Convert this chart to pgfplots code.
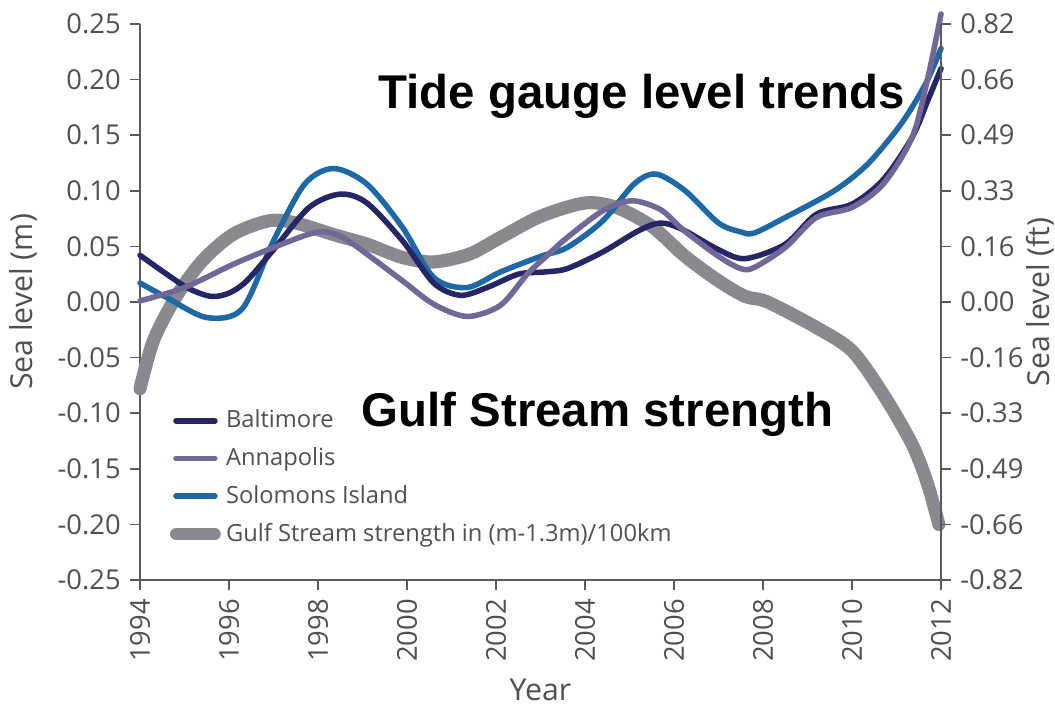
\documentclass[border=0pt]{standalone}
\usepackage{pgfplots}
\pgfplotsset{compat=1.18}
\usepackage{fontspec}
\setmainfont{Open Sans}
\newfontfamily\annfont{Liberation Sans}

\definecolor{balt}{RGB}{37,38,102}
\definecolor{anna}{RGB}{113,104,152}
\definecolor{solo}{RGB}{31,104,166}
\definecolor{gulf}{RGB}{138,137,144}
\definecolor{axgray}{RGB}{90,90,90}
\definecolor{txgray}{RGB}{80,80,80}

\pgfplotsset{
  srl/.style={scale only axis, width=304.4pt, height=211.3pt,
    xmin=1994, xmax=2012, ymin=-0.25, ymax=0.25,
    axis line style={axgray, line width=0.6pt},
    tick align=outside, major tick length=3.8pt,
    tick style={axgray, line width=0.6pt},
    ytick={-0.25,-0.20,-0.15,-0.10,-0.05,0,0.05,0.10,0.15,0.20,0.25},
    tick label style={font=\fontsize{10.4}{12}\selectfont, text=txgray},
    label style={font=\fontsize{11.5}{13}\selectfont, text=txgray},
    clip=false},
  tline/.style={line width=2.1pt, line cap=round, smooth},
}

\begin{document}
\begin{tikzpicture}
\begin{axis}[srl,
  axis x line*=bottom, axis y line*=left,
  xtick={1994,1996,...,2012},
  xticklabels={1994,1996,1998,2000,2002,2004,2006,2008,2010,2012},
  xticklabel style={rotate=90, anchor=east},
  yticklabels={-0.25,-0.20,-0.15,-0.10,-0.05,0.00,0.05,0.10,0.15,0.20,0.25},
  xlabel={Year}, xlabel style={at={(axis description cs:0.5,-0.198)}, anchor=center},
  ylabel={Sea level (m)}, ylabel style={at={(axis description cs:-0.145,0.5)}, anchor=center},
  legend style={draw=none, fill=none, at={(axis description cs:0.027,0.326)}, anchor=north west,
    font=\fontsize{9}{10.8}\selectfont, text=txgray, row sep=2pt},
  legend cell align=left,
  legend image code/.code={\draw[#1] (0pt,0pt) -- (14.8pt,0pt);},
]
% Gulf Stream strength (drawn underneath)
\addplot[gulf, line width=5pt, line cap=round, smooth, forget plot] table {
1994.0 -0.078
1994.3 -0.035
1994.8 0.004
1995.4 0.037
1996.1 0.061
1996.9 0.073
1997.5 0.071
1998.4 0.060
1999.1 0.052
1999.9 0.040
2000.6 0.036
2001.4 0.043
2002.1 0.058
2003.0 0.077
2004.0 0.089
2004.7 0.085
2005.5 0.068
2006.25 0.041
2007.0 0.019
2007.6 0.005
2008.1 0.000
2009.2 -0.023
2010.0 -0.044
2010.7 -0.083
2011.35 -0.128
2011.7 -0.164
2011.95 -0.200
};
% Solomons Island
\addplot[solo, tline, forget plot] table {
1994.0 0.017
1994.6 0.004
1995.5 -0.014
1996.3 -0.006
1997.0 0.055
1997.7 0.106
1998.35 0.120
1999.1 0.106
1999.9 0.067
2000.6 0.022
2001.35 0.013
2002.1 0.027
2003.0 0.041
2003.6 0.049
2004.4 0.073
2005.1 0.106
2005.6 0.115
2006.25 0.100
2007.0 0.071
2007.5 0.063
2007.8 0.062
2008.5 0.076
2009.6 0.100
2010.35 0.124
2011.1 0.160
2011.65 0.196
2012.0 0.228
};
% Baltimore
\addplot[balt, tline, forget plot] table {
1994.0 0.042
1994.6 0.025
1995.1 0.012
1995.6 0.005
1996.0 0.008
1996.4 0.019
1997.0 0.047
1997.8 0.085
1998.5 0.097
1999.1 0.089
1999.9 0.055
2000.6 0.017
2001.2 0.006
2001.8 0.013
2002.5 0.025
2003.1 0.027
2003.6 0.030
2004.4 0.045
2005.2 0.064
2005.7 0.071
2006.2 0.065
2007.0 0.047
2007.6 0.039
2008.5 0.052
2009.2 0.079
2010.0 0.088
2010.7 0.110
2011.35 0.148
2011.7 0.181
2012.0 0.210
};
% Annapolis
\addplot[anna, tline, forget plot] table {
1994.0 0.001
1995.0 0.013
1996.1 0.034
1997.0 0.049
1997.8 0.061
1998.2 0.063
1998.6 0.057
1999.1 0.043
1999.9 0.019
2000.6 -0.002
2001.35 -0.013
2002.1 -0.003
2002.7 0.025
2003.1 0.040
2003.6 0.058
2004.4 0.082
2005.05 0.091
2005.7 0.083
2006.2 0.065
2007.0 0.041
2007.5 0.030
2007.8 0.031
2008.5 0.049
2009.2 0.076
2010.0 0.085
2010.7 0.106
2011.35 0.148
2011.7 0.201
2012.0 0.259
};
\addlegendimage{balt, line width=2.1pt, line cap=round}
\addlegendentry{Baltimore}
\addlegendimage{anna, line width=2.1pt, line cap=round}
\addlegendentry{Annapolis}
\addlegendimage{solo, line width=2.1pt, line cap=round}
\addlegendentry{Solomons Island}
\addlegendimage{gulf, line width=4.5pt, line cap=round}
\addlegendentry{Gulf Stream strength in (m-1.3m)/100km}

\node[font=\annfont\bfseries\fontsize{18}{20}\selectfont, anchor=base] at (axis cs:2005.27,0.1736) {Tide gauge level trends};
\node[font=\annfont\bfseries\fontsize{18}{20}\selectfont, anchor=base] at (axis cs:2004.28,-0.1124) {Gulf Stream strength};
\end{axis}

\begin{axis}[srl,
  axis x line=none, axis y line*=right,
  yticklabels={-0.82,-0.66,-0.49,-0.33,-0.16,0.00,0.16,0.33,0.49,0.66,0.82},
  ylabel={Sea level (ft)}, ylabel style={at={(axis description cs:1.124,0.5)}, anchor=center},
]
\addplot[draw=none] coordinates {(1994,0)};
\end{axis}

\pgfresetboundingbox
\useasboundingbox (-53.2pt,-47.5pt) rectangle (347.7pt,220.4pt);
\end{tikzpicture}
\end{document}
